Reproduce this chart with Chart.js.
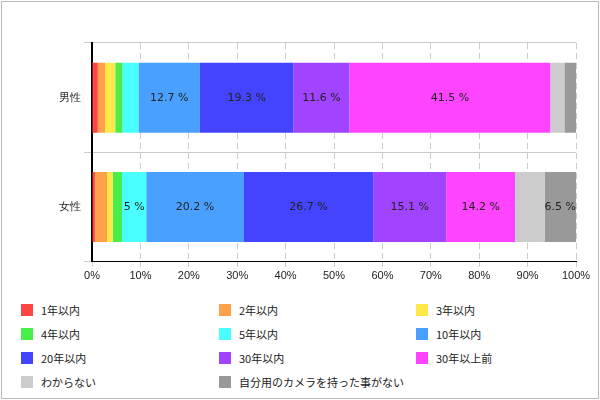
<!DOCTYPE html>
<html><head><meta charset="utf-8">
<script src="https://cdn.jsdelivr.net/npm/chart.js@4"></script>
<style>
body{margin:0;background:#fff;font-family:"Noto Sans CJK JP",sans-serif;}
#wrap{position:absolute;left:1px;top:1px;width:596px;height:396px;border:1px solid #bbb;}
#c{position:absolute;left:0;top:0;}
#lg{position:absolute;left:19px;top:296px;width:580px;display:grid;grid-template-columns:198px 197px 180px;grid-auto-rows:24px;font-size:11px;color:#222;}
#lg div{display:flex;align-items:center;}
#lg span{display:inline-block;width:12px;height:12px;margin-right:8px;}
</style></head><body>
<div id="wrap"><canvas id="c" width="596" height="290"></canvas><div id="lg"></div></div>
<script>
const categories=["男性","女性"];
const seriesNames=["1年以内","2年以内","3年以内","4年以内","5年以内","10年以内","20年以内","30年以内","30年以上前","わからない","自分用のカメラを持った事がない"];
const colors=["#ff4444","#ffa04a","#ffe94a","#4aee4a","#4affff","#4aa0ff","#4444ff","#a044ff","#ff44ff","#cccccc","#999999"];
const male=[1.2,1.5,2.1,1.5,3.3,12.7,19.3,11.6,41.5,2.9,2.4];
const female=[0.6,2.5,1.2,1.9,5,20.2,26.7,15.1,14.2,6.1,6.5];
const ticks=["0%","10%","20%","30%","40%","50%","60%","70%","80%","90%","100%"];
const lg=document.getElementById('lg');
seriesNames.forEach((n,i)=>{const d=document.createElement('div');d.innerHTML='<span style="background:'+colors[i]+'"></span>'+n;lg.appendChild(d);});
const labelPlugin={id:'lbl',afterDatasetsDraw(ch){const ctx=ch.ctx;ctx.save();ctx.font='11px "DejaVu Sans",sans-serif';ctx.fillStyle='#222';ctx.textAlign='center';ctx.textBaseline='middle';
ch.data.datasets.forEach((ds,di)=>{ch.getDatasetMeta(di).data.forEach((el,j)=>{const v=ds.data[j];if(v>=5&&di!==9){const p=el.getProps(['x','base','y']);ctx.fillText((v%1?v.toFixed(1):v)+' %',(p.x+p.base)/2,p.y);}});});ctx.restore();}};
new Chart(document.getElementById('c'),{type:'bar',
data:{labels:categories,datasets:seriesNames.map((n,i)=>({label:n,data:[male[i],female[i]],backgroundColor:colors[i],barPercentage:0.8,categoryPercentage:0.8}))},
options:{indexAxis:'y',responsive:false,animation:false,
layout:{padding:{left:0,right:22,top:41,bottom:6}},
plugins:{legend:{display:false},tooltip:{enabled:false}},
scales:{x:{stacked:true,min:0,max:100,ticks:{stepSize:10,color:'#222',font:{size:11},callback:(v,i)=>ticks[i]},grid:{color:'#ccc',tickLength:5,drawTicks:true},border:{dash:[6,4],display:true,color:'#000'}},
y:{stacked:true,afterFit:(a)=>{a.width=90;},ticks:{color:'#222',font:{size:11}},grid:{color:'#ccc',offset:true},border:{color:'#000',width:2}}}},
plugins:[labelPlugin]});
</script></body></html>
